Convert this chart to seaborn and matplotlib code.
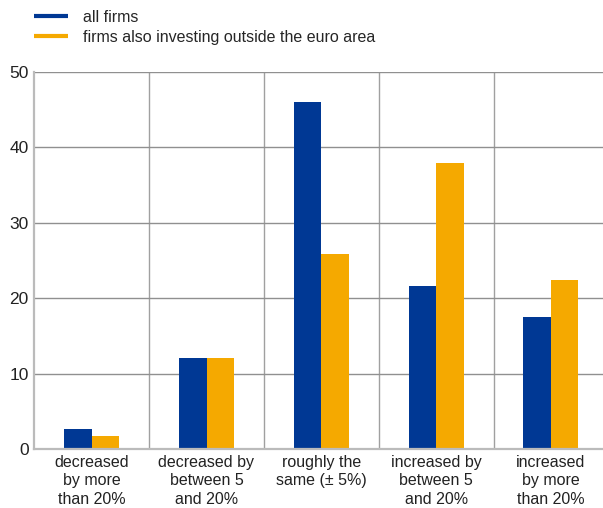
import matplotlib
matplotlib.use("Agg")
import matplotlib.pyplot as plt
from matplotlib.lines import Line2D
from matplotlib.ticker import FixedLocator
import pandas as pd
import seaborn as sns

categories = [
    "decreased\nby more\nthan 20%",
    "decreased by\nbetween 5\nand 20%",
    "roughly the\nsame (± 5%)",
    "increased by\nbetween 5\nand 20%",
    "increased\nby more\nthan 20%",
]
series_names = ["all firms", "firms also investing outside the euro area"]
all_firms = [2.7, 12.1, 46.0, 21.6, 17.5]
outside_euro = [1.8, 12.1, 25.9, 37.9, 22.4]
colors = ["#003894", "#F5A900"]

df = pd.DataFrame({
    "category": categories * 2,
    "series": [series_names[0]] * len(categories) + [series_names[1]] * len(categories),
    "value": all_firms + outside_euro,
})

sns.set_theme(style="white")
plt.rcParams["font.family"] = ["Liberation Sans", "DejaVu Sans"]
plt.rcParams["font.size"] = 11.5

W, H = 603, 508
fig = plt.figure(figsize=(W / 100, H / 100), dpi=100)
ax = fig.add_axes([34.3 / W, (H - 449.3) / H, 574 / W, 377.6 / H])

sns.barplot(
    data=df, x="category", y="value", hue="series",
    hue_order=series_names, order=categories, palette=colors,
    width=0.48, gap=0, saturation=1, linewidth=0, ax=ax, legend=False,
)

ax.set_xlim(-0.5, len(categories) - 0.5)
ax.set_ylim(0, 50)
ax.set_yticks(range(0, 51, 10))
ax.set_xlabel("")
ax.set_ylabel("")

# category boundaries as vertical grid lines, value grid horizontal
ax.xaxis.set_minor_locator(FixedLocator([i + 0.5 for i in range(len(categories) - 1)]))
ax.grid(True, which="minor", axis="x", color="#a0a0a0", linewidth=1)
ax.grid(True, which="major", axis="y", color="#909090", linewidth=1)
ax.set_axisbelow(True)

ax.tick_params(axis="x", which="major", length=0, pad=4, labelsize=11.5, colors="#222222")
ax.tick_params(axis="x", which="minor", length=6, width=1, color="#a0a0a0", direction="out")
ax.tick_params(axis="y", length=0, pad=4, labelsize=12.5, colors="#222222")
for lbl in ax.get_xticklabels():
    lbl.set_linespacing(1.3)

for side in ["top", "right"]:
    ax.spines[side].set_visible(False)
for side in ["left", "bottom"]:
    ax.spines[side].set_color("#bbbbbb")
    ax.spines[side].set_linewidth(1.6)

handles = [Line2D([0], [0], color=c, linewidth=3, solid_capstyle="butt") for c in colors]
fig.legend(
    handles, series_names, loc="upper left", bbox_to_anchor=(34 / W, 1 - 10 / H),
    frameon=False, fontsize=11.5, handlelength=2.13, handletextpad=0.94,
    labelspacing=0.3, borderpad=0, borderaxespad=0,
)

fig.savefig("out.png", dpi=100)
